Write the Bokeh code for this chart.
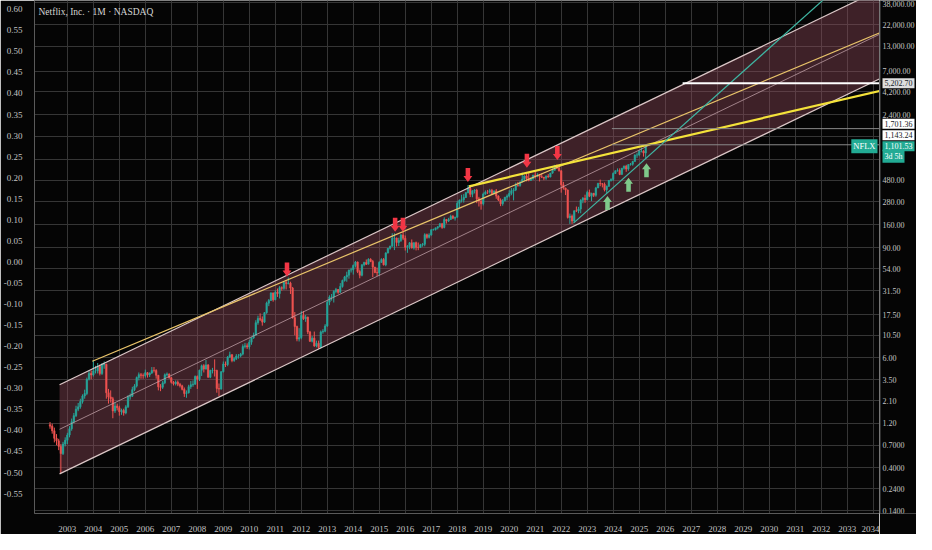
import numpy as np
from bokeh.plotting import figure
from bokeh.layouts import row
from bokeh.models import (Range1d, LinearAxis, LinearScale, FixedTicker,
                          NumeralTickFormatter, Label, Span, ColumnDataSource)
from bokeh.core.properties import value
from bokeh.embed import file_html
from bokeh.resources import INLINE

# ---------------- data: NFLX monthly candles, May 2002 .. Apr 2025 ----------------
FIRST_YEAR, FIRST_MONTH = 2002, 5
FIRST_OPEN = 1.16
close = [
    1.12, 1.00, 0.83, 0.78, 0.68, 0.57, 0.72, 0.79,
    0.90, 1.05, 1.25, 1.45, 1.70, 1.80, 2.05, 2.35, 2.50, 3.55, 4.10, 3.95,
    4.36, 4.37, 4.87, 4.10, 5.07, 5.13, 2.55, 2.30, 2.20, 1.63, 1.84, 1.76,
    1.60, 1.65, 1.55, 1.80, 2.30, 2.34, 2.75, 3.00, 3.71, 3.98, 3.90, 3.87,
    4.18, 3.95, 4.14, 4.42, 4.41, 3.92, 2.95, 2.92, 3.25, 3.96, 4.04, 3.69,
    3.30, 3.19, 3.31, 3.14, 3.02, 2.77, 2.50, 2.55, 2.96, 3.10, 3.15, 3.80,
    3.56, 4.43, 4.96, 4.57, 5.06, 3.73, 4.41, 4.43, 4.41, 2.83, 2.79, 4.27,
    5.16, 5.10, 6.13, 6.49, 5.63, 5.90, 6.29, 6.30, 6.60, 7.95, 8.10, 7.87,
    8.86, 9.86, 10.53, 14.30, 15.85, 15.52, 14.50, 18.30, 23.15, 24.75, 29.80, 25.10,
    30.3, 29.3, 33.9, 33.3, 38.4, 37.5, 37.9, 33.6, 16.2, 13.0, 9.56, 9.90,
    17.1, 15.8, 16.4, 11.4, 9.06, 9.78, 8.07, 8.61, 7.78, 11.4, 11.6, 13.2,
    23.7, 26.9, 27.0, 30.9, 32.3, 30.2, 34.9, 40.4, 44.2, 46.1, 52.3, 52.6,
    58.5, 63.7, 50.3, 46.0, 59.7, 62.9, 60.4, 68.2, 64.5, 56.2, 49.3, 48.8,
    63.1, 67.8, 59.5, 79.7, 89.2, 93.9, 114.3, 115.0, 103.3, 108.4, 123.8, 114.4,
    91.8, 93.4, 102.2, 90.0, 102.6, 91.5, 91.3, 97.5, 98.6, 124.9, 117.0, 123.8,
    140.7, 142.1, 147.8, 152.2, 163.1, 149.4, 181.7, 174.7, 181.4, 196.4, 187.6, 192.0,
    270.3, 291.4, 295.4, 312.5, 351.6, 391.4, 337.5, 367.7, 374.1, 301.8, 286.1, 267.7,
    339.5, 358.1, 356.6, 370.5, 343.3, 367.3, 323.0, 293.8, 267.6, 287.4, 314.7, 323.6,
    345.1, 369.0, 375.5, 419.9, 419.7, 455.0, 488.9, 529.6, 500.0, 475.7, 490.7, 540.7,
    532.4, 538.9, 521.7, 513.5, 502.8, 528.2, 517.6, 569.2, 610.3, 690.3, 641.9, 602.4,
    427.1, 394.5, 374.6, 190.4, 197.4, 174.9, 224.9, 223.6, 235.4, 291.9, 305.5, 294.9,
    353.9, 322.1, 345.5, 329.9, 395.2, 440.5, 439.0, 433.7, 377.6, 411.7, 474.0, 486.9,
    564.1, 602.9, 607.3, 550.6, 641.6, 674.9, 628.4, 701.4, 709.3, 756.0, 886.8, 891.3,
    976.8, 980.6, 932.5, 1101.53,
]
high = [
    1.24, 1.19, 1.08, 0.92, 0.82, 0.72, 0.76, 0.85,
    0.95, 1.12, 1.35, 1.55, 1.85, 1.98, 2.20, 2.45, 2.75, 3.70, 4.40, 4.40,
    5.68, 4.95, 5.30, 5.10, 5.30, 5.50, 5.20, 2.80, 2.70, 2.30, 2.00, 1.95,
    1.85, 1.72, 1.72, 1.88, 2.40, 2.50, 2.95, 3.15, 3.80, 4.20, 4.15, 4.10,
    4.50, 4.25, 4.20, 4.80, 4.80, 4.55, 3.95, 3.15, 3.40, 4.10, 4.20, 4.10,
    3.75, 3.40, 3.45, 3.45, 3.25, 3.10, 2.90, 2.70, 3.10, 3.40, 3.45, 3.90,
    3.90, 4.50, 5.10, 5.15, 5.70, 5.15, 4.50, 4.70, 5.80, 4.50, 3.20, 4.35,
    5.50, 5.50, 6.30, 7.00, 6.60, 6.10, 6.60, 6.60, 6.80, 8.40, 8.70, 8.60,
    9.40, 9.95, 11.20, 15.20, 17.00, 18.00, 16.70, 18.60, 24.00, 25.60, 30.20, 30.00,
    31.8, 33.2, 35.2, 35.0, 39.0, 40.4, 43.5, 39.2, 34.5, 18.6, 13.3, 12.5,
    19.0, 19.0, 17.3, 16.6, 11.7, 10.3, 11.5, 9.20, 9.20, 11.8, 12.2, 13.8,
    24.7, 28.1, 29.0, 31.8, 33.7, 32.7, 37.9, 41.3, 45.2, 50.2, 52.8, 55.4,
    60.0, 65.4, 64.5, 52.9, 60.0, 64.2, 67.8, 69.9, 69.9, 67.1, 56.6, 55.5,
    65.0, 69.9, 70.3, 81.0, 89.4, 95.5, 129.3, 129.3, 116.3, 115.8, 126.8, 133.3,
    122.2, 96.9, 104.2, 111.0, 103.1, 105.4, 103.0, 99.7, 101.7, 129.3, 128.2, 129.3,
    142.9, 144.8, 148.3, 153.5, 166.9, 166.9, 191.5, 183.3, 189.2, 204.4, 202.5, 194.5,
    286.8, 297.4, 333.9, 338.8, 356.1, 423.2, 419.8, 373.0, 383.2, 386.8, 317.0, 298.7,
    352.0, 371.5, 376.0, 386.0, 386.0, 370.0, 385.0, 329.6, 305.2, 300.2, 315.8, 336.8,
    373.0, 393.5, 392.8, 449.5, 458.0, 467.0, 575.4, 539.0, 557.4, 572.5, 514.9, 545.5,
    593.3, 566.6, 557.4, 563.6, 515.1, 537.0, 555.6, 571.0, 640.4, 691.0, 701.0, 667.6,
    610.0, 458.5, 397.6, 380.5, 210.2, 205.3, 226.9, 249.9, 247.9, 298.8, 316.0, 334.7,
    369.0, 379.4, 351.0, 349.8, 405.1, 448.7, 485.0, 445.4, 451.4, 418.8, 479.2, 500.9,
    579.6, 606.8, 639.0, 639.0, 646.0, 686.5, 697.5, 703.0, 729.4, 770.0, 904.0, 941.8,
    999.0, 1064.5, 1000.0, 1110.0,
]
low = [
    1.05, 0.93, 0.75, 0.70, 0.62, 0.35, 0.55, 0.68,
    0.72, 0.85, 1.00, 1.20, 1.40, 1.62, 1.72, 1.95, 2.20, 2.40, 3.45, 3.55,
    3.80, 4.10, 4.10, 3.90, 3.95, 4.60, 2.20, 1.95, 2.00, 1.36, 1.55, 1.65,
    1.45, 1.48, 1.45, 1.50, 1.75, 2.15, 2.30, 2.65, 2.90, 3.45, 3.60, 3.60,
    3.70, 3.70, 3.75, 4.05, 4.20, 3.60, 2.70, 2.65, 2.80, 3.15, 3.80, 3.60,
    3.20, 3.05, 3.05, 3.00, 2.90, 2.70, 2.30, 2.25, 2.50, 2.80, 2.95, 3.10,
    2.80, 3.40, 3.85, 4.20, 4.50, 3.70, 3.65, 4.10, 3.80, 2.55, 2.35, 2.75,
    4.20, 4.80, 4.90, 6.00, 5.40, 5.45, 5.70, 5.90, 6.10, 6.40, 7.60, 7.50,
    7.40, 8.30, 9.60, 10.40, 13.60, 14.90, 13.30, 14.20, 17.80, 21.50, 24.50, 24.00,
    24.9, 27.0, 26.0, 31.5, 32.1, 32.4, 36.7, 29.0, 15.8, 10.5, 9.05, 9.00,
    9.50, 15.3, 14.6, 10.8, 8.90, 8.80, 7.90, 7.80, 7.54, 7.60, 10.9, 11.3,
    12.9, 22.0, 24.6, 23.5, 29.5, 29.1, 29.9, 33.9, 39.3, 39.2, 42.3, 49.2,
    46.8, 55.7, 48.5, 42.7, 44.8, 57.3, 59.2, 60.0, 63.5, 43.9, 48.4, 45.1,
    45.5, 62.4, 58.5, 57.4, 78.6, 86.4, 93.3, 85.5, 93.5, 94.4, 104.5, 109.3,
    84.5, 79.9, 87.2, 89.0, 86.5, 84.8, 85.3, 90.5, 93.0, 93.9, 113.0, 113.9,
    122.0, 138.3, 138.3, 142.2, 149.3, 144.2, 146.0, 164.2, 170.8, 181.2, 183.0, 176.8,
    190.5, 236.1, 275.9, 275.3, 309.1, 346.0, 315.2, 313.9, 344.8, 271.2, 250.0, 231.2,
    256.6, 333.3, 340.0, 344.0, 339.0, 338.4, 302.6, 286.0, 252.3, 254.6, 284.2, 291.0,
    313.0, 330.0, 290.3, 365.0, 407.0, 407.0, 466.0, 467.0, 464.9, 464.9, 472.0, 486.2,
    499.0, 514.0, 463.4, 505.0, 478.5, 482.1, 508.0, 512.0, 560.0, 605.1, 632.0, 591.4,
    351.5, 379.0, 331.6, 186.0, 162.7, 162.7, 170.5, 218.0, 211.7, 211.7, 271.0, 273.4,
    291.8, 315.0, 285.3, 315.6, 318.0, 392.9, 411.9, 400.0, 362.6, 344.7, 405.0, 461.9,
    468.0, 556.0, 589.0, 541.0, 549.6, 620.0, 587.0, 603.0, 684.0, 684.0, 758.0, 828.0,
    862.0, 947.0, 854.0, 820.0,
]

# ---------------- axes ----------------
right_ticks = [0.14, 0.24, 0.4, 0.7, 1.2, 2.1, 3.5, 6.0, 10.5, 17.5, 31.5, 54.0, 90.0,
               160.0, 280.0, 480.0, 800.0, 1400.0, 2400.0, 4200.0, 7000.0, 13000.0,
               22000.0, 38000.0]
right_labels = ["0.1400", "0.2400", "0.4000", "0.7000", "1.20", "2.10", "3.50", "6.00",
                "10.50", "17.50", "31.50", "54.00", "90.00", "160.00", "280.00", "480.00",
                "", "", "2,400.00", "4,200.00", "7,000.00", "13,000.00", "22,000.00",
                "38,000.00"]
left_ticks = [-0.55, -0.50, -0.45, -0.40, -0.35, -0.30, -0.25, -0.20, -0.15, -0.10, -0.05,
              0.00, 0.05, 0.10, 0.15, 0.20, 0.25, 0.30, 0.35, 0.40, 0.45, 0.50, 0.55, 0.60]
year_ticks = list(range(2003, 2035))

# ---------------- drawings ----------------
channel_years = [2002.70, 2036.0]
channel_upper = [3.10, 89150.0]
channel_median = [1.036, 29800.0]
channel_lower = [0.346, 9950.0]
gold_years, gold_prices = [2003.96, 2036.0], [5.53, 28730.0]
yellow_years, yellow_prices = [2018.45, 2036.0], [411.0, 5590.0]
teal_years, teal_prices = [2022.47, 2036.0], [166.0, 381000.0]
target_level, target_start = 5202.70, 2026.67
level_lines, level_start = [1701.36, 1143.24], 2023.95
last_price = 1101.53
red_arrow_years = [2011.45, 2015.61, 2015.91, 2018.41, 2020.68, 2021.85]
red_arrow_tips = [44.7, 134.0, 134.0, 457.0, 648.0, 784.0]
green_arrow_years = [2023.78, 2024.59, 2025.28]
green_arrow_tips = [323.5, 506.0, 725.0]

# ---------------- layout constants ----------------
W, H = 916, 534
SIDE_W = 37                   # right price-scale panel
MAIN_W = W - SIDE_W
BL, BB = 27, 20
X0, X1 = 2001.736, 2034.245
Y0, Y1 = 0.1303, 39900.0
LIN0, LIN1 = -0.5972, 0.6207
BG = "#050505"
GRID = "#363636"
AXLINE = "#5a5a5a"
TXT = "#c4c4c4"
FONT = "Liberation Sans Narrow"
PPX = (MAIN_W - BL) / (X1 - X0)
PPL = (H - BB) / np.log(Y1 / Y0)

# ---------------- main chart ----------------
p = figure(width=MAIN_W, height=H, x_range=Range1d(X0, X1), y_range=Range1d(Y0, Y1),
           y_axis_type="log", y_axis_location=None, output_backend="svg",
           toolbar_location=None, min_border_left=BL, min_border_right=0,
           min_border_bottom=BB, min_border_top=0, background_fill_color=BG,
           border_fill_color=BG, outline_line_color=None)

p.ygrid[0].ticker = FixedTicker(ticks=right_ticks)

p.extra_y_ranges = {"lin": Range1d(LIN0, LIN1)}
p.extra_y_scales = {"lin": LinearScale()}
ly = LinearAxis(y_range_name="lin", ticker=FixedTicker(ticks=left_ticks),
                formatter=NumeralTickFormatter(format="0.00"))
p.add_layout(ly, "left")

p.xaxis.ticker = FixedTicker(ticks=year_ticks)
p.xaxis.formatter = NumeralTickFormatter(format="0")
p.xgrid[0].ticker = FixedTicker(ticks=year_ticks)

for ax in [ly, p.xaxis[0]]:
    ax.axis_line_color = AXLINE
    ax.major_tick_line_color = None
    ax.minor_tick_line_color = None
    ax.major_label_text_color = TXT
    ax.major_label_text_font = FONT
    ax.major_label_text_font_size = "9px"
    ax.major_label_standoff = 6
for g in [p.xgrid[0], p.ygrid[0]]:
    g.grid_line_color = GRID
    g.grid_line_width = 1

# channel fill
p.patch(x=[channel_years[0], channel_years[1], channel_years[1], channel_years[0]],
        y=[channel_upper[0], channel_upper[1], channel_lower[1], channel_lower[0]],
        fill_color="#8e4a5a", fill_alpha=0.42, line_color=None)

# candles
n = len(close)
assert len(high) == n and len(low) == n
xs = []
for i in range(n):
    m = (FIRST_MONTH - 1) + i
    xs.append(FIRST_YEAR + m // 12 + (m % 12) / 12.0)
opens = [FIRST_OPEN] + close[:-1]
UP, DOWN = "#26a69a", "#ef5350"
colors = [UP if c >= o else DOWN for o, c in zip(opens, close)]
src = ColumnDataSource(dict(
    x=xs, h=high, l=low,
    top=[max(o, c) for o, c in zip(opens, close)],
    bot=[min(o, c) for o, c in zip(opens, close)],
    color=colors))
p.segment(x0="x", y0="h", x1="x", y1="l", line_color="color", line_width=1, source=src)
p.vbar(x="x", width=0.055, top="top", bottom="bot", fill_color="color",
       line_color="color", line_width=0.6, source=src)

# channel lines
p.line(channel_years, channel_upper, line_color="#dcc8c8", line_width=1.2)
p.line(channel_years, channel_lower, line_color="#dcc8c8", line_width=1.2)
p.line(channel_years, channel_median, line_color="#c9a9b0", line_width=0.9, line_alpha=0.8)

# trend lines
p.line(gold_years, gold_prices, line_color="#e9c46a", line_width=1.2)
p.line(yellow_years, yellow_prices, line_color="#f4e23a", line_width=2.2)
p.line(teal_years, teal_prices, line_color="#3fb6a3", line_width=1.2)

# horizontal levels
p.line([target_start, X1 + 2], [target_level, target_level], line_color="#ffffff", line_width=2.2)
for lv in level_lines:
    p.line([level_start, X1 + 2], [lv, lv], line_color="#8a8a8a", line_width=1)

# arrows
def arrow_shape(xc, tip, down):
    s = 1.0 if down else -1.0
    pts = [(0, 0), (-4.5, 6), (-2.3, 6), (-2.3, 14), (2.3, 14), (2.3, 6), (4.5, 6)]
    return ([xc + dx / PPX for dx, dy in pts],
            [tip * float(np.exp(s * dy / PPL)) for dx, dy in pts])

rx, ryy = [], []
for xv, tv in zip(red_arrow_years, red_arrow_tips):
    a, b = arrow_shape(xv, tv, True)
    rx.append(a); ryy.append(b)
p.patches(rx, ryy, fill_color="#f23645", line_color=None)
gx, gy = [], []
for xv, tv in zip(green_arrow_years, green_arrow_tips):
    a, b = arrow_shape(xv, tv, False)
    gx.append(a); gy.append(b)
p.patches(gx, gy, fill_color="#7fc98a", line_color=None)

# title
p.add_layout(Label(x=4, y=(H - BB) - 12, x_units="screen", y_units="screen",
                   text="Netflix, Inc. · 1M · NASDAQ", text_font=FONT,
                   text_font_size="9.5px", text_color="#d6d6d6", text_baseline="middle"))

# symbol tag at the price scale edge
p.add_layout(Label(x=X1, y=last_price, x_offset=-2, text="NFLX", text_font=FONT,
                   text_font_size="8.5px", text_color="#ffffff", text_align="right",
                   text_baseline="middle", background_fill_color="#22ab94",
                   background_fill_alpha=1.0, padding=2))

# ---------------- right price scale (log) ----------------
s = figure(width=SIDE_W, height=H, x_range=Range1d(0, SIDE_W), y_range=p.y_range,
           y_axis_type="log", x_axis_location=None, y_axis_location=None,
           output_backend="svg", toolbar_location=None, min_border_left=0,
           min_border_right=0, min_border_bottom=BB, min_border_top=0,
           background_fill_color=BG, border_fill_color=BG, outline_line_color=None)
s.grid.visible = False
s.add_layout(Span(location=0.5, dimension="height", line_color=AXLINE, line_width=1))

# tick labels; the topmost one sits at the very edge, so hang it from the top
edge_px = 6
lab_y, lab_t, top_y, top_t = [], [], [], []
for t, l in zip(right_ticks, right_labels):
    if not l:
        continue
    if np.log(Y1 / t) * PPL < edge_px:
        top_y.append(Y1); top_t.append(l)
    else:
        lab_y.append(t); lab_t.append(l)
s.text(x=[3] * len(lab_y), y=lab_y, text=lab_t, text_font=value(FONT),
       text_font_size="8px", text_color=TXT, text_baseline="middle", text_align="left")
s.text(x=[3] * len(top_y), y=top_y, text=top_t, text_font=value(FONT),
       text_font_size="8px", text_color=TXT, text_baseline="top", text_align="left")

def price_tag(txt, price, dy, bg, fg):
    s.add_layout(Label(x=3, y=price, y_offset=dy, text=txt,
                       text_font=FONT, text_font_size="8px", text_color=fg,
                       text_align="left", text_baseline="middle",
                       background_fill_color=bg, background_fill_alpha=1.0,
                       padding=2))

price_tag("5,202.70", target_level, 0, "#dedede", "#131722")
price_tag("1,701.36", level_lines[0], 5, "#ffffff", "#131722")
price_tag("1,143.24", level_lines[1], 9.5, "#ffffff", "#131722")
price_tag("1,101.53", last_price, 0, "#22ab94", "#ffffff")
price_tag("3d 5h", last_price, -10, "#22ab94", "#ffffff")

layout = row(p, s, spacing=0)
html = file_html(layout, INLINE)
open("out.html", "w").write(html)
